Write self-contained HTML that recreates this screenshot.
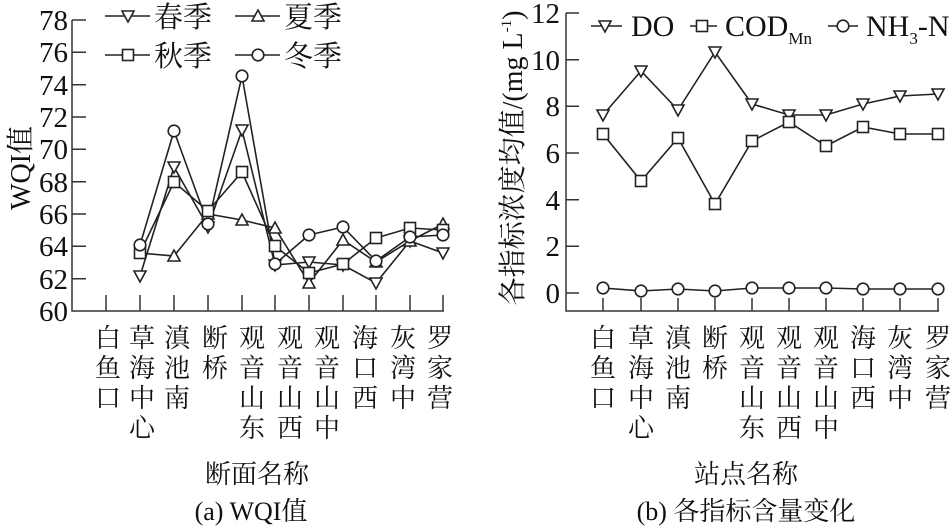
<!DOCTYPE html>
<html><head><meta charset="utf-8"><style>
html,body{margin:0;padding:0;background:#fff;}
svg{display:block;}
text{font-family:"Liberation Serif","Noto Serif CJK SC",serif;fill:#111;}
</style></head><body>
<svg width="952" height="529" viewBox="0 0 952 529" xmlns="http://www.w3.org/2000/svg">
<defs>
<g id="dn"><path d="M-6,-5 L6,-5 L0,6 Z" fill="#fff" stroke="#222" stroke-width="1.6"/></g>
<g id="up"><path d="M-6,5 L6,5 L0,-6 Z" fill="#fff" stroke="#222" stroke-width="1.6"/></g>
<g id="sq"><rect x="-5.5" y="-5.5" width="11" height="11" fill="#fff" stroke="#222" stroke-width="1.6"/></g>
<g id="ci"><circle r="5.8" fill="#fff" stroke="#222" stroke-width="1.6"/></g>
</defs>
<g stroke="#333" stroke-width="1.5" fill="none">
<path d="M72,20 V311 H444"/>
<path d="M72,20 H86 M72,52.3 H86 M72,84.7 H86 M72,117 H86 M72,149.3 H86 M72,181.7 H86 M72,214 H86 M72,246.3 H86 M72,278.7 H86"/>
<path d="M106,311 V295 M140,311 V295 M174,311 V295 M208,311 V295 M242,311 V295 M275,311 V295 M309,311 V295 M343,311 V295 M376,311 V295 M410,311 V295 M443,311 V295"/>
<path d="M566,13 V311 H939"/>
<path d="M566,13 H579 M566,59.7 H579 M566,106.3 H579 M566,153 H579 M566,199.7 H579 M566,246.3 H579 M566,293 H579"/>
<path d="M603,311 V298 M641,311 V298 M678,311 V298 M715,311 V298 M752,311 V298 M789,311 V298 M826,311 V298 M863,311 V298 M900,311 V298 M938,311 V298"/>
</g>
<g font-size="29" text-anchor="end">
<text x="68" y="30">78</text><text x="68" y="62">76</text><text x="68" y="95">74</text><text x="68" y="127">72</text><text x="68" y="159">70</text><text x="68" y="192">68</text><text x="68" y="224">66</text><text x="68" y="256">64</text><text x="68" y="289">62</text><text x="68" y="321">60</text>
<text x="560" y="23">12</text><text x="560" y="70">10</text><text x="560" y="116">8</text><text x="560" y="163">6</text><text x="560" y="210">4</text><text x="560" y="256">2</text><text x="560" y="303">0</text>
</g>
<text transform="translate(30,168) rotate(-90)" font-size="28" text-anchor="middle">WQI值</text>
<text transform="translate(522,158) rotate(-90)" font-size="28" text-anchor="middle">各指标浓度均值/(mg L<tspan font-size="15" dy="-11">-1</tspan><tspan dy="11">)</tspan></text>

<g fill="none" stroke="#222" stroke-width="1.6">
<polyline points="140,276 174,167 208,227 242,130 275,265 309,262 343,265 376,283 410,241 443,253"/>
<polyline points="140,253 174,256 208,214 242,220 275,228 309,283 343,240 376,262 410,241 443,224"/>
<polyline points="140,253 174,182 208,211 242,172 275,246 309,273 343,264 376,238 410,228 443,230"/>
<polyline points="140,245 174,131 208,224 242,76 275,264 309,235 343,227 376,261 410,237 443,235"/>
</g>
<g>
<use href="#dn" x="140" y="276"/><use href="#dn" x="174" y="167"/><use href="#dn" x="208" y="227"/><use href="#dn" x="242" y="130"/><use href="#dn" x="275" y="265"/><use href="#dn" x="309" y="262"/><use href="#dn" x="343" y="265"/><use href="#dn" x="376" y="283"/><use href="#dn" x="410" y="241"/><use href="#dn" x="443" y="253"/>
<use href="#up" x="174" y="256"/><use href="#up" x="208" y="214"/><use href="#up" x="242" y="220"/><use href="#up" x="275" y="228"/><use href="#up" x="309" y="283"/><use href="#up" x="343" y="240"/><use href="#up" x="376" y="262"/><use href="#up" x="410" y="241"/><use href="#up" x="443" y="224"/>
<use href="#sq" x="140" y="253"/><use href="#sq" x="174" y="182"/><use href="#sq" x="208" y="211"/><use href="#sq" x="242" y="172"/><use href="#sq" x="275" y="246"/><use href="#sq" x="309" y="273"/><use href="#sq" x="343" y="264"/><use href="#sq" x="376" y="238"/><use href="#sq" x="410" y="228"/><use href="#sq" x="443" y="230"/>
<use href="#ci" x="140" y="245"/><use href="#ci" x="174" y="131"/><use href="#ci" x="208" y="224"/><use href="#ci" x="242" y="76"/><use href="#ci" x="275" y="264"/><use href="#ci" x="309" y="235"/><use href="#ci" x="343" y="227"/><use href="#ci" x="376" y="261"/><use href="#ci" x="410" y="237"/><use href="#ci" x="443" y="235"/>
</g>
<g stroke="#222" stroke-width="1.6"><path d="M105,16 H150 M235,16 H280 M105,55 H150 M235,55 H280"/></g>
<use href="#dn" x="128" y="16"/><use href="#up" x="258" y="16"/><use href="#sq" x="128" y="55"/><use href="#ci" x="258" y="55"/>
<g font-size="29"><text x="154" y="27">春季</text><text x="284" y="27">夏季</text><text x="154" y="66">秋季</text><text x="284" y="66">冬季</text></g>

<g fill="none" stroke="#222" stroke-width="1.6">
<polyline points="603,115 641,71 678,110 715,52 752,104 789,115 826,115 863,104 900,96 938,94"/>
<polyline points="603,134 641,181 678,138 715,204 752,141 789,122 826,146 863,127 900,134 938,134"/>
<polyline points="603,288 641,291 678,289 715,291 752,288 789,288 826,288 863,289 900,289 938,289"/>
</g>
<g>
<use href="#dn" x="603" y="115"/><use href="#dn" x="641" y="71"/><use href="#dn" x="678" y="110"/><use href="#dn" x="715" y="52"/><use href="#dn" x="752" y="104"/><use href="#dn" x="789" y="115"/><use href="#dn" x="826" y="115"/><use href="#dn" x="863" y="104"/><use href="#dn" x="900" y="96"/><use href="#dn" x="938" y="94"/>
<use href="#sq" x="603" y="134"/><use href="#sq" x="641" y="181"/><use href="#sq" x="678" y="138"/><use href="#sq" x="715" y="204"/><use href="#sq" x="752" y="141"/><use href="#sq" x="789" y="122"/><use href="#sq" x="826" y="146"/><use href="#sq" x="863" y="127"/><use href="#sq" x="900" y="134"/><use href="#sq" x="938" y="134"/>
<use href="#ci" x="603" y="288"/><use href="#ci" x="641" y="291"/><use href="#ci" x="678" y="289"/><use href="#ci" x="715" y="291"/><use href="#ci" x="752" y="288"/><use href="#ci" x="789" y="288"/><use href="#ci" x="826" y="288"/><use href="#ci" x="863" y="289"/><use href="#ci" x="900" y="289"/><use href="#ci" x="938" y="289"/>
</g>
<g stroke="#222" stroke-width="1.6"><path d="M591,26 H622 M690,26 H717 M828,26 H858"/></g>
<use href="#dn" x="605" y="26"/><use href="#sq" x="702" y="26"/><use href="#ci" x="843" y="26"/>
<g font-size="30"><text x="631" y="36">DO</text><text x="725" y="36">COD<tspan font-size="17" dy="8">Mn</tspan></text><text x="866" y="36">NH<tspan font-size="17" dy="8">3</tspan><tspan dy="-8">-N</tspan></text></g>

<g font-size="26" text-anchor="middle" font-family="'Noto Serif CJK SC',serif">
<text x="108" y="347">白</text><text x="108" y="377">鱼</text><text x="108" y="407">口</text>
<text x="142" y="347">草</text><text x="142" y="377">海</text><text x="142" y="407">中</text><text x="142" y="437">心</text>
<text x="177" y="347">滇</text><text x="177" y="377">池</text><text x="177" y="407">南</text>
<text x="215" y="347">断</text><text x="215" y="377">桥</text>
<text x="252" y="347">观</text><text x="252" y="377">音</text><text x="252" y="407">山</text><text x="252" y="437">东</text>
<text x="290" y="347">观</text><text x="290" y="377">音</text><text x="290" y="407">山</text><text x="290" y="437">西</text>
<text x="327" y="347">观</text><text x="327" y="377">音</text><text x="327" y="407">山</text><text x="327" y="437">中</text>
<text x="365" y="347">海</text><text x="365" y="377">口</text><text x="365" y="407">西</text>
<text x="403" y="347">灰</text><text x="403" y="377">湾</text><text x="403" y="407">中</text>
<text x="440" y="347">罗</text><text x="440" y="377">家</text><text x="440" y="407">营</text>

<text x="603" y="347">白</text><text x="603" y="377">鱼</text><text x="603" y="407">口</text>
<text x="641" y="347">草</text><text x="641" y="377">海</text><text x="641" y="407">中</text><text x="641" y="437">心</text>
<text x="678" y="347">滇</text><text x="678" y="377">池</text><text x="678" y="407">南</text>
<text x="715" y="347">断</text><text x="715" y="377">桥</text>
<text x="752" y="347">观</text><text x="752" y="377">音</text><text x="752" y="407">山</text><text x="752" y="437">东</text>
<text x="789" y="347">观</text><text x="789" y="377">音</text><text x="789" y="407">山</text><text x="789" y="437">西</text>
<text x="826" y="347">观</text><text x="826" y="377">音</text><text x="826" y="407">山</text><text x="826" y="437">中</text>
<text x="863" y="347">海</text><text x="863" y="377">口</text><text x="863" y="407">西</text>
<text x="900" y="347">灰</text><text x="900" y="377">湾</text><text x="900" y="407">中</text>
<text x="938" y="347">罗</text><text x="938" y="377">家</text><text x="938" y="407">营</text>
</g>
<g font-size="26" text-anchor="middle">
<text x="257" y="483">断面名称</text>
<text x="251" y="520">(a) WQI值</text>
<text x="746" y="483">站点名称</text>
<text x="746" y="520">(b) 各指标含量变化</text>
</g>
</svg>
</body></html>
